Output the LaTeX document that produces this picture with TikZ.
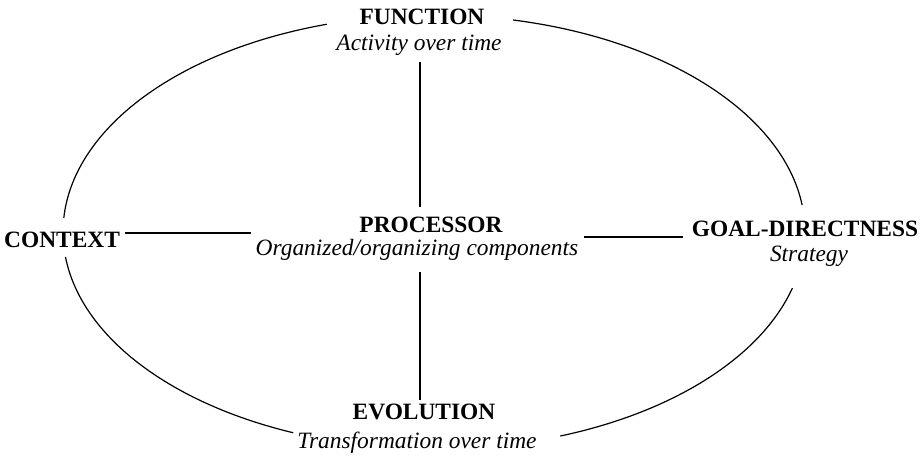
\documentclass[tikz,border=0pt]{standalone}
\usepackage{fontspec}
\setmainfont{Liberation Serif}
\begin{document}
\begin{tikzpicture}[x=1pt,y=1pt,
  title/.style={font=\fontsize{23.4}{28}\selectfont\bfseries, inner sep=0pt, anchor=base},
  sub/.style={font=\fontsize{23.4}{28}\selectfont\itshape, inner sep=0pt, anchor=base},
  conn/.style={line width=1.1pt},
  oval/.style={line width=1.2pt}]
\useasboundingbox (0,0) rectangle (921,462);
\coordinate (c) at (434,230);
% ellipse arcs
\draw[oval] (c) ++(7.1:371 and 217) arc[start angle=7.1, end angle=77.7, x radius=371, y radius=217];
\draw[oval] (c) ++(106.8:371 and 217) arc[start angle=106.8, end angle=176.3, x radius=371, y radius=217];
\draw[oval] (c) ++(186.6:371 and 217) arc[start angle=186.6, end angle=247.7, x radius=371, y radius=217];
\draw[oval] (c) ++(289.9:371 and 217) arc[start angle=289.9, end angle=345, x radius=371, y radius=217];
% labels
\node[title] (func) at (422,437) {FUNCTION};
\node[sub] (act) at (419,411) {Activity over time};
\node[title] (proc) at (431,229) {PROCESSOR};
\node[sub] (procsub) at (417,206) {Organized/organizing components};
\node[title] (goal) at (805,225) {GOAL-DIRECTNESS};
\node[sub] (strat) at (809,200) {Strategy};
\node[title] (evo) at (424,42) {EVOLUTION};
\node[sub] (trans) at (417,13) {Transformation over time};
\node[title, anchor=base west] (context) at (4,214) {CONTEXT};
% connectors
\draw[conn] ([shift={(5,15)}]context.base east) -- ([shift={(-4,23)}]procsub.base west);
\draw[conn] ([shift={(5,19)}]procsub.base east) -- ([shift={(-9,0)}]goal.base west);
\draw[conn] ([shift={(1,-11)}]act.base) -- ([shift={(-11,26)}]proc.base);
\draw[conn] ([shift={(3,-16)}]procsub.base) -- ([shift={(-4,20)}]evo.base);
\end{tikzpicture}
\end{document}
